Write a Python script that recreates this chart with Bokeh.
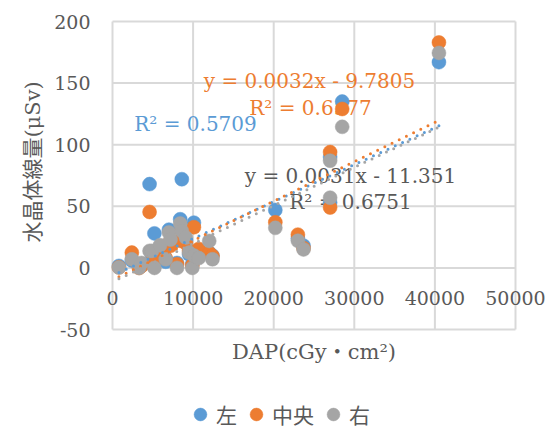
import math
from bokeh.plotting import figure
from bokeh.models import FixedTicker, LinearAxis, Legend, LegendItem
from bokeh.core.properties import value
from bokeh.embed import file_html
from bokeh.resources import INLINE

# DAP per case (cGy·cm²) and lens dose (µSv) at three dosimeter positions
dap = [800, 2400, 3300, 3600, 4600, 4900, 5200, 5900, 6600, 7000, 7200, 8000, 8400,
       8600, 9100, 9500, 9900, 10100, 10700, 12000, 12400, 20200, 23000, 23700,
       27000, 27000, 28500, 40500]
dose_left = [1.6, 6, 3, 2, 68, 10, 28, 15, 5, 31, 20, 4, 39.5,
             72, 22, 11, 3, 36.7, 12, 12.4, 10, 47, 24, 18,
             53, 90, 135, 167]
dose_center = [0.5, 12.4, 0, 1.6, 45.4, 12, 6, 16, 8, 20, 18, 3, 22,
               30, 20, 14, 2, 33, 15.4, 12, 9.7, 37, 27, 16,
               49, 94, 129, 183]
dose_right = [0.3, 7, 0, 4, 13.8, 13.8, 0, 18.4, 7, 28.7, 23, 0, 36,
              30, 24.6, 12.4, 0, 10, 8, 21.9, 7, 32.5, 22, 15,
              57, 87, 114.5, 174.5]

series_names = ["左", "中央", "右"]
series_colors = ["#5B9BD5", "#ED7D31", "#A5A5A5"]

# linear trendlines (slope, intercept) and their R² values
trend_slope = [0.0030, 0.0032, 0.0031]
trend_intercept = [-6.2, -9.7805, -11.351]
r_squared = ["0.5709", "0.6577", "0.6751"]

x_ticks = [0, 10000, 20000, 30000, 40000, 50000]
y_ticks = [-50, 0, 50, 100, 150, 200]

SERIF = "DejaVu Serif, 'Noto Sans CJK JP'"
TEXT_GREY = "#595959"
GRID = "#D9D9D9"

# The plot area (0..50000, -50..200) sits inside a frame that fills the whole
# canvas, so that axis labels, titles and the legend share one drawing area.
X_LO, X_HI = x_ticks[0], x_ticks[-1]
Y_LO, Y_HI = y_ticks[0], y_ticks[-1]
W, H = 557, 430
AREA_L, AREA_R, AREA_T, AREA_B = 112, 515, 21, 329
ux = (X_HI - X_LO) / (AREA_R - AREA_L)
uy = (Y_HI - Y_LO) / (AREA_B - AREA_T)
x_range = (X_LO - AREA_L * ux, X_HI + (W - AREA_R) * ux)
y_range = (Y_LO - (H - AREA_B) * uy, Y_HI + AREA_T * uy)

p = figure(width=W, height=H, x_range=x_range, y_range=y_range,
           output_backend="svg", toolbar_location=None,
           x_axis_location=None, y_axis_location=None, min_border=0)
p.outline_line_color = None
p.background_fill_color = "white"
p.border_fill_color = "white"
p.xgrid.visible = False
p.ygrid.visible = False

# gridlines, bounded to the plot area
p.segment(x0=x_ticks, y0=[Y_LO] * len(x_ticks), x1=x_ticks, y1=[Y_HI] * len(x_ticks),
          line_color=GRID, line_width=2)
p.segment(x0=[X_LO] * len(y_ticks), y0=y_ticks, x1=[X_HI] * len(y_ticks), y1=y_ticks,
          line_color=GRID, line_width=2)

# axes pinned to x=0 / y=0: labels only
xaxis = LinearAxis(fixed_location=0, ticker=FixedTicker(ticks=x_ticks),
                   major_label_overrides={t: str(t) for t in x_ticks},
                   major_label_standoff=23)
yaxis = LinearAxis(fixed_location=0, ticker=FixedTicker(ticks=y_ticks),
                   major_label_overrides={t: str(t) for t in y_ticks},
                   major_label_standoff=22)
for ax in (xaxis, yaxis):
    ax.axis_line_color = None
    ax.major_tick_line_color = None
    ax.minor_tick_line_color = None
    ax.major_tick_out = 0
    ax.major_tick_in = 0
    ax.major_label_text_font = SERIF
    ax.major_label_text_font_size = "19px"
    ax.major_label_text_color = TEXT_GREY
p.add_layout(xaxis, "below")
p.add_layout(yaxis, "left")

# axis titles
title_style = dict(text_font=value(SERIF), text_font_size="21px",
                   text_color=TEXT_GREY, text_align="center", text_baseline="middle")
p.text(x=[(X_LO + X_HI) / 2], y=[-68], text=["DAP(cGy・cm²)"], **title_style)
p.text(x=[-9900], y=[86], text=["水晶体線量(μSv)"], angle=math.pi / 2, **title_style)

# trendline annotations (drawn beneath the markers)
label_style = dict(text_font=value(SERIF), text_font_size="20px",
                   text_align="center", text_baseline="middle")
p.text(x=[24440], y=[151.6],
       text=[f"y = {trend_slope[1]}x - {abs(trend_intercept[1])}"],
       text_color=series_colors[1], **label_style)
p.text(x=[24570], y=[129.7], text=[f"R² = {r_squared[1]}"],
       text_color=series_colors[1], **label_style)
p.text(x=[10300], y=[116.7], text=[f"R² = {r_squared[0]}"],
       text_color=series_colors[0], **label_style)
p.text(x=[29530], y=[74.6],
       text=[f"y = {trend_slope[2]}x - {abs(trend_intercept[2])}"],
       text_color=TEXT_GREY, **label_style)
p.text(x=[29530], y=[53.5], text=[f"R² = {r_squared[2]}"],
       text_color=TEXT_GREY, **label_style)

# markers
renderers = []
for ys, color in zip([dose_left, dose_center, dose_right], series_colors):
    r = p.scatter(dap, ys, size=14, marker="circle", fill_color=color,
                  line_color=color, line_width=0.5)
    renderers.append(r)

# dotted trendlines over the markers
x0, x1 = min(dap), max(dap)
for m, b, color in zip(trend_slope, trend_intercept, series_colors):
    p.line([x0, x1], [m * x0 + b, m * x1 + b], line_color=color, line_width=3,
           line_dash="0 8", line_cap="round")

legend = Legend(items=[LegendItem(label=n, renderers=[r])
                       for n, r in zip(series_names, renderers)],
                orientation="horizontal", location=(184, 0),
                glyph_width=32, glyph_height=32, label_standoff=0, spacing=3,
                padding=0, margin=0, border_line_color=None,
                background_fill_alpha=0, label_text_font=SERIF,
                label_text_font_size="21px", label_text_color=TEXT_GREY,
                label_height=32)
p.add_layout(legend, "center")

open("out.html", "w").write(file_html(p, INLINE))
